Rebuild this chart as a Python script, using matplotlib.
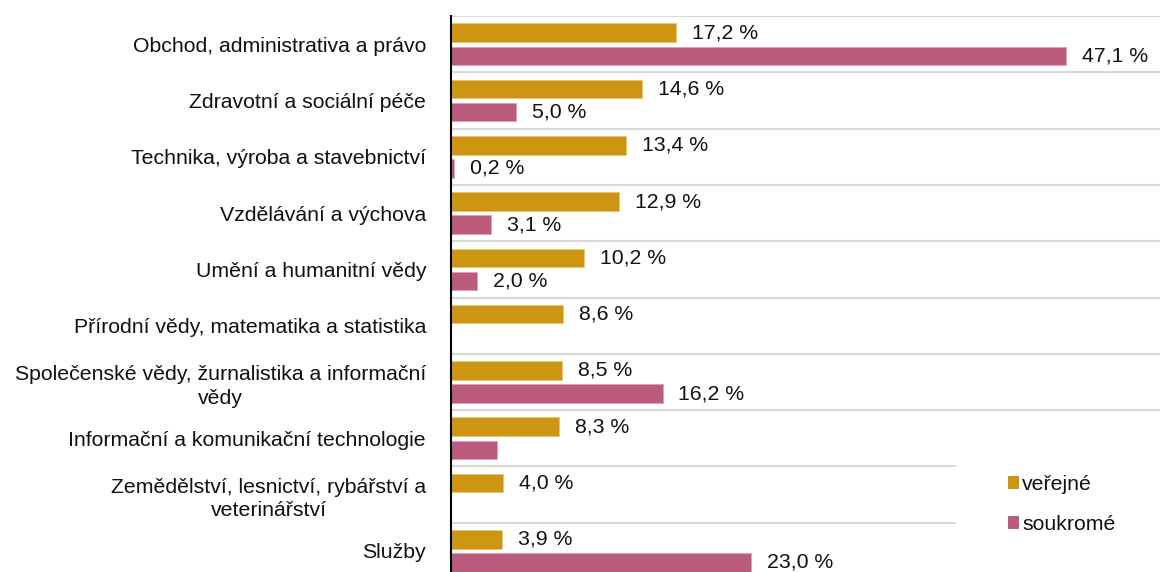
import matplotlib
matplotlib.use("Agg")
import matplotlib.pyplot as plt
import numpy as np

plt.rcParams['font.family'] = ['Liberation Sans', 'DejaVu Sans']

categories = [
    "Obchod, administrativa a právo",
    "Zdravotní a sociální péče",
    "Technika, výroba a stavebnictví",
    "Vzdělávání a výchova",
    "Umění a humanitní vědy",
    "Přírodní vědy, matematika a statistika",
    "Společenské vědy, žurnalistika a informační\nvědy",
    "Informační a komunikační technologie",
    "Zemědělství, lesnictví, rybářství a\nveterinářství",
    "Služby",
]
verejne = [17.2, 14.6, 13.4, 12.9, 10.2, 8.6, 8.5, 8.3, 4.0, 3.9]
soukrome = [47.1, 5.0, 0.2, 3.1, 2.0, None, 16.2, 3.5, None, 23.0]
soukrome_labels = ["47,1 %", "5,0 %", "0,2 %", "3,1 %", "2,0 %", None, "16,2 %", None, None, "23,0 %"]
verejne_labels = ["17,2 %", "14,6 %", "13,4 %", "12,9 %", "10,2 %", "8,6 %", "8,5 %", "8,3 %", "4,0 %", "3,9 %"]
series_names = ["veřejné", "soukromé"]

c_ver = "#CD9512"
c_sou = "#BB5C7E"
fs = 15.3

fig = plt.figure(figsize=(11.6, 5.72), dpi=100)
ax = fig.add_axes([451/1160, -0.0122, 1 - 451/1160, 0.984])

y = np.arange(len(categories))
h = 0.33
off = 0.205

bv = ax.barh(y - off, verejne, height=h, color=c_ver, edgecolor="#E8C878", linewidth=0.6,
             label=series_names[0], zorder=3)
ys = [yy + off for yy, v in zip(y, soukrome) if v is not None]
vs = [v for v in soukrome if v is not None]
bs = ax.barh(ys, vs, height=h, color=c_sou, edgecolor="#DDA0B6", linewidth=0.6,
             label=series_names[1], zorder=3)

ax.bar_label(bv, labels=verejne_labels, padding=11.5, fontsize=fs, color="#111111")
sl = [l for l, v in zip(soukrome_labels, soukrome) if v is not None]
sl = [l if l is not None else "" for l in sl]
ax.bar_label(bs, labels=sl, padding=11.5, fontsize=fs, color="#111111")

ax.set_ylim(len(categories) - 0.5, -0.5)
ax.set_xlim(0, 54.3)
ax.set_yticks(y)
ax.set_yticklabels(categories, fontsize=fs, multialignment="center", color="#111111",
                   linespacing=1.32)
ax.tick_params(axis="y", length=0, pad=18)
ax.set_xticks([])
ax.set_yticks(np.arange(len(categories) + 1) - 0.5, minor=True)
ax.tick_params(axis="y", which="minor", length=0)
ax.grid(axis="y", which="minor", color="#D9D9D9", linewidth=1.5, zorder=0)
ax.set_axisbelow(True)
for s in ["top", "right", "bottom"]:
    ax.spines[s].set_visible(False)
ax.spines["left"].set_color("black")
ax.spines["left"].set_linewidth(1.5)
ax.spines["left"].set_zorder(4)

leg = ax.legend(loc="upper left", bbox_to_anchor=(956/1160, 1 - 423/572),
                bbox_transform=fig.transFigure, borderaxespad=0, borderpad=2.45,
                fontsize=fs, handlelength=0.52, handleheight=0.52, handletextpad=0.14,
                labelspacing=0.98, frameon=True, facecolor="white", edgecolor="white",
                framealpha=1, fancybox=False)
for t in leg.get_texts():
    t.set_color("#111111")
for p in leg.get_patches():
    p.set_edgecolor("none")

fig.savefig("out.png", dpi=100)
